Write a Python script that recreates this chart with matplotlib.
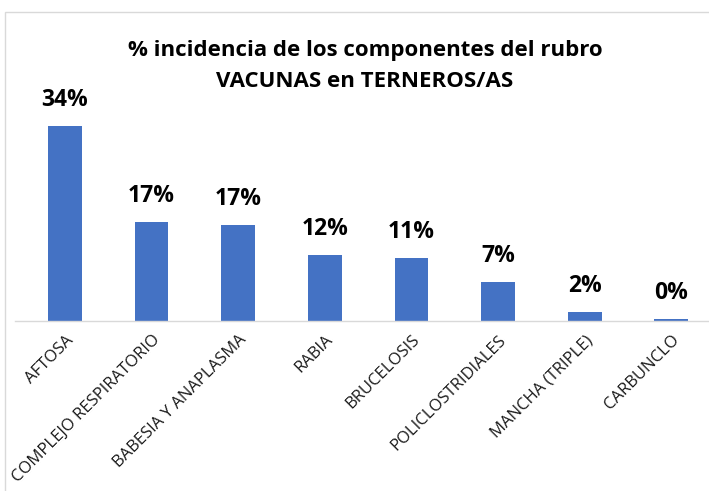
import matplotlib.pyplot as plt
from matplotlib.patches import Rectangle

categories = ["AFTOSA", "COMPLEJO RESPIRATORIO", "BABESIA Y ANAPLASMA", "RABIA",
              "BRUCELOSIS", "POLICLOSTRIDIALES", "MANCHA (TRIPLE)", "CARBUNCLO"]
values = [34.0, 17.2, 16.7, 11.5, 11.0, 6.8, 1.6, 0.4]
labels = ["34%", "17%", "17%", "12%", "11%", "7%", "2%", "0%"]
title = "% incidencia de los componentes del rubro\nVACUNAS en TERNEROS/AS"

plt.rcParams['font.family'] = ['Open Sans', 'DejaVu Sans']

W, H = 709, 491
fig = plt.figure(figsize=(W / 100, H / 100), dpi=100)
fig.patches.append(Rectangle((5 / W, -0.1), 1.2, (H - 12) / H + 0.1, transform=fig.transFigure,
                             fill=False, edgecolor='#d9d9d9', linewidth=1))

ax = fig.add_axes([15 / W, (H - 321) / H, 1 - 15 / W, (321 - 60) / H])
x = list(range(len(categories)))
ax.bar(x, values, width=0.39, color='#4472C4', zorder=2)
ax.set_xlim(-0.577, 7.436)
ax.set_ylim(0, 34 * 261 / 195)
for xi, v, lab in zip(x, values, labels):
    ax.annotate(lab, (xi, v), xytext=(0, 10), textcoords='offset points',
                ha='center', va='bottom', fontsize=16.5, fontweight='bold', color='black')

for s in ['top', 'right', 'left']:
    ax.spines[s].set_visible(False)
ax.spines['bottom'].set_color('#d9d9d9')
ax.spines['bottom'].set_linewidth(1)
ax.set_yticks([])
ax.set_xticks(x)
ax.set_xticklabels(categories, rotation=45, ha='right', rotation_mode='anchor',
                   fontsize=12, color='#1a1a1a')
ax.tick_params(axis='x', length=0, pad=8)

fig.text(365 / W, 1 - 66 / H, title, ha='center', va='center', fontsize=16,
         fontweight='bold', linespacing=1.65)

fig.savefig('out.png', dpi=100)
